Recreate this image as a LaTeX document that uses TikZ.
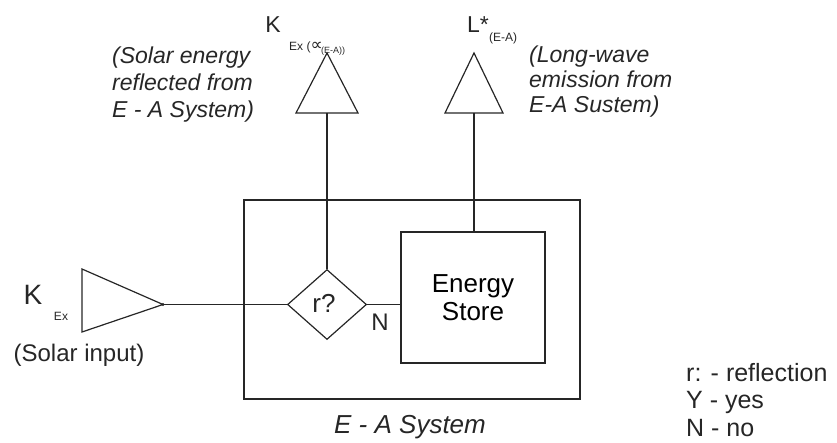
\documentclass[tikz,border=0pt]{standalone}
\usepackage{fontspec}
\setmainfont{Liberation Sans}
\newfontfamily\dejavu{DejaVu Sans}
\usetikzlibrary{shapes.geometric}
\tikzset{
  ln/.style={draw=black!85, line width=1.2pt},
  lbl/.style={inner sep=0pt, text=black!85},
  decide/.style={diamond, ln, inner sep=0pt, minimum width=79pt, minimum height=70pt},
}
\newcommand{\fs}[2]{\fontsize{#1}{#2}\selectfont}
\begin{document}
\begin{tikzpicture}[x=1pt,y=-1pt]
\useasboundingbox (0,0) rectangle (837,443);
% boxes
\node[ln, minimum width=336pt, minimum height=199pt, inner sep=0pt] (sys) at (412,299.5) {};
\node[ln, minimum width=144pt, minimum height=131pt, inner sep=0pt, align=center, font=\fs{26}{28}] (store) at (473,297.5) {Energy\\Store};
\node[decide] (dec) at (327,304.5) {};
\node[lbl, font=\fs{26}{28}] (rq) at (324,303) {r?};
% input triangle
\coordinate (inA) at (82,269);
\coordinate (inB) at (82,332);
\coordinate (inTip) at (163,304.5);
\draw[ln, line join=miter] (inTip) -- (inA) -- (inB) -- cycle;
\fill[black!85] (inTip) circle (1.6pt);
% up triangles
\coordinate (kApex) at (327,53);
\coordinate (kL) at (296,113);
\coordinate (kR) at (358,113);
\coordinate (kBase) at (327,113);
\draw[ln] (kApex) -- (kL) -- (kR) -- cycle;
\coordinate (lApex) at (474,53);
\coordinate (lL) at (445,113);
\coordinate (lR) at (503,113);
\coordinate (lBase) at (474,113);
\draw[ln] (lApex) -- (lL) -- (lR) -- cycle;
% connectors
\draw[ln] (inTip) -- (dec.west);
\draw[ln] (dec.east) -- (store.west |- dec.east);
\draw[ln] (kBase) -- (dec.north);
\draw[ln] (lBase) -- (store.north -| lBase);
% labels
\node[lbl, font=\fs{24}{27}] (N) at (380,322) {N};
\node[lbl, font=\fs{26}{28}\itshape] (sysl) at (410,427) {E - A System};
\node[lbl, font=\fs{28}{30}] (kin) at (33,295) {K};
\node[lbl, font=\fs{12}{14}] (kinsub) at (61,316) {Ex};
\node[lbl, font=\fs{24}{27}] (solin) at (79,355) {(Solar input)};
\node[lbl, font=\fs{23}{26}] (kout) at (273,25) {K};
\node[lbl, font=\fs{12}{14}, anchor=base west] (koutsub) at (289,51) {Ex ({\dejavu\fs{17}{18}\itshape ∝}};
\node[lbl, font=\fs{9}{11}, anchor=base west] (koutsub2) at (321,54) {(E-A))};
\node[lbl, font=\fs{23}{26}, anchor=west] (lout) at (467,25) {L*};
\node[lbl, font=\fs{12}{14}, anchor=west] (loutsub) at (489,38) {(E-A)};
\node[lbl, font=\fs{23}{27}\itshape, align=left, anchor=west] (refl) at (112,85) {(Solar energy\\reflected from\\E - A System)};
\node[lbl, font=\fs{23}{25}\itshape, align=left, anchor=west] (lw) at (529,82) {(Long-wave\\emission from\\E-A Sustem)};
\node[lbl, font=\fs{25}{27.5}, align=left, anchor=north west] (leg) at (686,363) {r: - reflection\\Y - yes\\N - no};
\end{tikzpicture}
\end{document}
